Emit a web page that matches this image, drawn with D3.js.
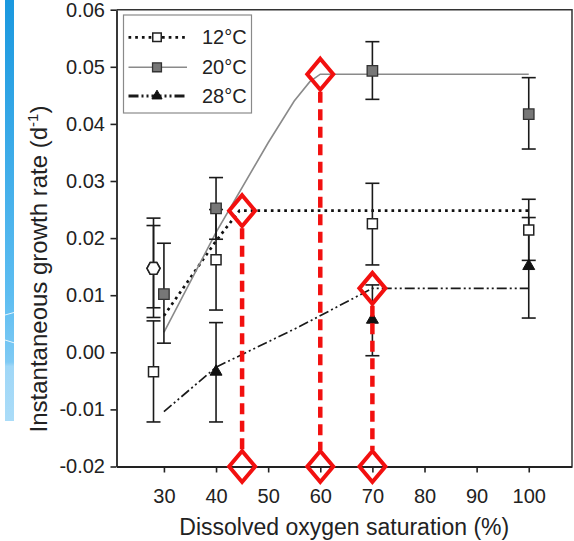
<!DOCTYPE html>
<html>
<head>
<meta charset="utf-8">
<script src="https://cdn.jsdelivr.net/npm/d3@7/dist/d3.min.js"></script>
<style>
  html, body { margin: 0; padding: 0; background: #fff; }
  svg { display: block; }
  text { font-family: "Liberation Sans", Arial, Helvetica, sans-serif; fill: #222; }
</style>
</head>
<body>
<svg id="chart" width="574" height="541"></svg>
<script>
// Tick values
const xTicks = [30, 40, 50, 60, 70, 80, 90, 100];
const yTicks = [-0.02, -0.01, 0, 0.01, 0.02, 0.03, 0.04, 0.05, 0.06];

// Series labels (temperature treatments)
const seriesNames = ["12°C", "20°C", "28°C"];

// Measured growth rates: mean with lower / upper error bar ends
const obs12 = [
  { x: 28,  y: -0.0034, lo: -0.0122, hi: 0.0055 },
  { x: 40,  y: 0.0162,  lo: 0.0074,  hi: 0.0250 },
  { x: 70,  y: 0.0225,  lo: 0.0153,  hi: 0.0296 },
  { x: 100, y: 0.0214,  lo: 0.0161,  hi: 0.0268 }
];
const obs20 = [
  { x: 30,  y: 0.0102, lo: 0.0016, hi: 0.0191 },
  { x: 40,  y: 0.0252, lo: 0.0198, hi: 0.0306 },
  { x: 70,  y: 0.0493, lo: 0.0443, hi: 0.0544 },
  { x: 100, y: 0.0417, lo: 0.0356, hi: 0.0481 }
];
const obs28 = [
  { x: 40,  y: -0.0034, lo: -0.0122, hi: 0.0052 },
  { x: 70,  y: 0.0057,  lo: -0.0006, hi: 0.0118 },
  { x: 100, y: 0.0151,  lo: 0.0060,  hi: 0.0236 }
];
// Open hexagon points at 28 %
const obsHex = [
  { x: 28, y: 0.0147, lo: 0.0061, hi: 0.0235 },
  { x: 28, y: 0.0147, lo: 0.0078, hi: 0.0222 }
];

// Fitted response curves [oxygen %, growth rate]
const fit12 = [[30, 0.0064], [40, 0.0195], [44.5, 0.0248], [100, 0.0248]];
const fit20 = [[30, 0.0035], [40, 0.0210], [50, 0.0367], [55, 0.0440], [58, 0.0474], [60, 0.0487], [100, 0.0487]];
const fit28 = [[30, -0.0104], [40, -0.0026], [56, 0.0045], [70, 0.0112], [100, 0.0112]];

// Oxygen thresholds where each curve levels off
const thresholdX = [45, 60, 70];
const thresholdY = [fit12[fit12.length - 1][1], fit20[fit20.length - 1][1], fit28[fit28.length - 1][1]];

const svg = d3.select("#chart");

// Side strip
const defs = svg.append("defs");
const grad = defs.append("linearGradient").attr("id", "strip").attr("x1", 0).attr("y1", 0).attr("x2", 0).attr("y2", 1);
grad.append("stop").attr("offset", "0%").attr("stop-color", "#1a98df");
grad.append("stop").attr("offset", "70%").attr("stop-color", "#5dbdf1");
grad.append("stop").attr("offset", "86%").attr("stop-color", "#7fcaf4");
grad.append("stop").attr("offset", "87%").attr("stop-color", "#a0d7f7");
grad.append("stop").attr("offset", "100%").attr("stop-color", "#aadcf8");
svg.append("rect").attr("x", 5).attr("y", 0).attr("width", 9).attr("height", 421).attr("fill", "url(#strip)");
svg.append("path").attr("d", "M5,315 L14,312.5").attr("stroke", "#fff").attr("stroke-width", 1).attr("opacity", 0.85);
svg.append("path").attr("d", "M5,340 L14,342.8").attr("stroke", "#fff").attr("stroke-width", 1).attr("opacity", 0.85);

// Scales
const x = d3.scaleLinear().domain([20.9, 108.3]).range([116.5, 572]);
const y = d3.scaleLinear().domain([-0.02, 0.06]).range([466.5, 9.7]);

// Plot frame (top and right)
svg.append("path")
  .attr("d", `M${x.range()[0]},${y.range()[1]} H${x.range()[1]} V${y.range()[0]}`)
  .attr("fill", "none").attr("stroke", "#333").attr("stroke-width", 1.5);

// Axes
const yAxis = svg.append("g").attr("transform", `translate(${x.range()[0]},0)`)
  .call(d3.axisLeft(y).tickValues(yTicks).tickSize(6).tickSizeOuter(0).tickPadding(5.5)
    .tickFormat(d => d.toFixed(2)));
const xAxis = svg.append("g").attr("transform", `translate(0,${y.range()[0]})`)
  .call(d3.axisBottom(x).tickValues(xTicks).tickSize(6).tickSizeOuter(0).tickPadding(16.5)
    .tickFormat(d => String(d)));
[yAxis, xAxis].forEach(g => {
  g.select(".domain").attr("stroke", "#222").attr("stroke-width", 1.8);
  g.selectAll(".tick line").attr("stroke", "#222").attr("stroke-width", 1.6);
  g.selectAll(".tick text").attr("font-size", 20).attr("fill", "#222")
    .style("font-family", '"Liberation Sans", Arial, sans-serif');
});

// Axis titles
svg.append("text")
  .attr("x", (x.range()[0] + x.range()[1]) / 2).attr("y", 535)
  .attr("text-anchor", "middle").attr("font-size", 23)
  .text("Dissolved oxygen saturation (%)");
const yt = svg.append("text")
  .attr("transform", "translate(47,269) rotate(-90)")
  .attr("text-anchor", "middle").attr("font-size", 24);
yt.append("tspan").text("Instantaneous growth rate (d");
yt.append("tspan").attr("font-size", 15).attr("dy", -9).text("-1");
yt.append("tspan").attr("dy", 9).text(")");

// Line styles per series
const styles = [
  { stroke: "#111", width: 2.7, dash: "2.7,4", legendWidth: 2.7 },
  { stroke: "#8a8a8a", width: 1.6, dash: null, legendWidth: 1.6 },
  { stroke: "#1a1a1a", width: 1.7, dash: "10,3,2,3,2,3", legendWidth: 3 }
];
const fits = [fit12, fit20, fit28];
const line = d3.line().x(d => x(d[0])).y(d => y(d[1]));

fits.forEach((f, i) => {
  svg.append("path").datum(f).attr("d", line)
    .attr("fill", "none").attr("stroke", styles[i].stroke)
    .attr("stroke-width", styles[i].width)
    .attr("stroke-dasharray", styles[i].dash);
});

// Error bars
const allObs = [].concat(obsHex, obs12, obs20, obs28);
const eb = svg.append("g").attr("stroke", "#1a1a1a").attr("stroke-width", 1.6);
allObs.forEach(d => {
  const cx = x(d.x);
  eb.append("line").attr("x1", cx).attr("x2", cx).attr("y1", y(d.lo)).attr("y2", y(d.hi));
  eb.append("line").attr("x1", cx - 7).attr("x2", cx + 7).attr("y1", y(d.lo)).attr("y2", y(d.lo));
  eb.append("line").attr("x1", cx - 7).attr("x2", cx + 7).attr("y1", y(d.hi)).attr("y2", y(d.hi));
});

// Marker shapes
const hexSymbol = {
  draw(ctx, size) {
    const w = Math.sqrt(size) * 0.55, h = Math.sqrt(size) * 0.5;
    ctx.moveTo(-w, 0); ctx.lineTo(-w / 2, -h); ctx.lineTo(w / 2, -h);
    ctx.lineTo(w, 0); ctx.lineTo(w / 2, h); ctx.lineTo(-w / 2, h); ctx.closePath();
  }
};
const markerStyles = [
  { type: d3.symbolSquare, size: 100, fill: "#fff", stroke: "#222", sw: 1.5 },
  { type: d3.symbolSquare, size: 110, fill: "#777", stroke: "#333", sw: 1.3 },
  { type: d3.symbolTriangle, size: 62, fill: "#111", stroke: "#111", sw: 1 }
];
function drawMarkers(data, ms) {
  svg.append("g").selectAll("path").data(data).join("path")
    .attr("transform", d => `translate(${x(d.x)},${y(d.y)})`)
    .attr("d", d3.symbol().type(ms.type).size(ms.size))
    .attr("fill", ms.fill).attr("stroke", ms.stroke).attr("stroke-width", ms.sw);
}
drawMarkers(obsHex, { type: hexSymbol, size: 140, fill: "#fff", stroke: "#222", sw: 1.6 });
drawMarkers(obs12, markerStyles[0]);
drawMarkers(obs20, markerStyles[1]);
drawMarkers(obs28, markerStyles[2]);

// Legend
const lg = svg.append("g");
lg.append("rect").attr("x", 123.5).attr("y", 15).attr("width", 128).attr("height", 98)
  .attr("fill", "#fff").attr("stroke", "#8a8a8a").attr("stroke-width", 1.2);
const rowY = [37.3, 67.3, 96];
seriesNames.forEach((name, i) => {
  lg.append("line").attr("x1", 128.5).attr("x2", 187).attr("y1", rowY[i]).attr("y2", rowY[i])
    .attr("stroke", styles[i].stroke).attr("stroke-width", styles[i].legendWidth)
    .attr("stroke-dasharray", styles[i].dash);
  const ms = markerStyles[i];
  lg.append("path").attr("transform", `translate(157,${rowY[i]})`)
    .attr("d", d3.symbol().type(ms.type).size(ms.size * 0.72))
    .attr("fill", ms.fill).attr("stroke", ms.stroke).attr("stroke-width", ms.sw);
  lg.append("text").attr("x", 202).attr("y", rowY[i] + 6.5).attr("font-size", 20).text(name);
});

// Threshold annotations: diamonds on each curve's plateau and on the x axis, joined by dashed lines
const red = "#f2100f";
const dW = 13, dH = 15.5;
function diamond(cx, cy) {
  return `M${cx},${cy - dH} L${cx + dW},${cy} L${cx},${cy + dH} L${cx - dW},${cy} Z`;
}
const ann = svg.append("g");
thresholdX.forEach((tx, i) => {
  const cx = x(tx), cyTop = y(thresholdY[i]), cyBot = y(-0.02);
  ann.append("line").attr("x1", cx).attr("x2", cx)
    .attr("y1", cyTop + dH + 2).attr("y2", cyBot - dH - 1)
    .attr("stroke", red).attr("stroke-width", 4.5).attr("stroke-dasharray", "11,6.5");
  ann.append("path").attr("d", diamond(cx, cyTop))
    .attr("fill", "none").attr("stroke", red).attr("stroke-width", 4).attr("stroke-linejoin", "miter");
  ann.append("path").attr("d", diamond(cx, cyBot))
    .attr("fill", "none").attr("stroke", red).attr("stroke-width", 4).attr("stroke-linejoin", "miter");
});
</script>
</body>
</html>
